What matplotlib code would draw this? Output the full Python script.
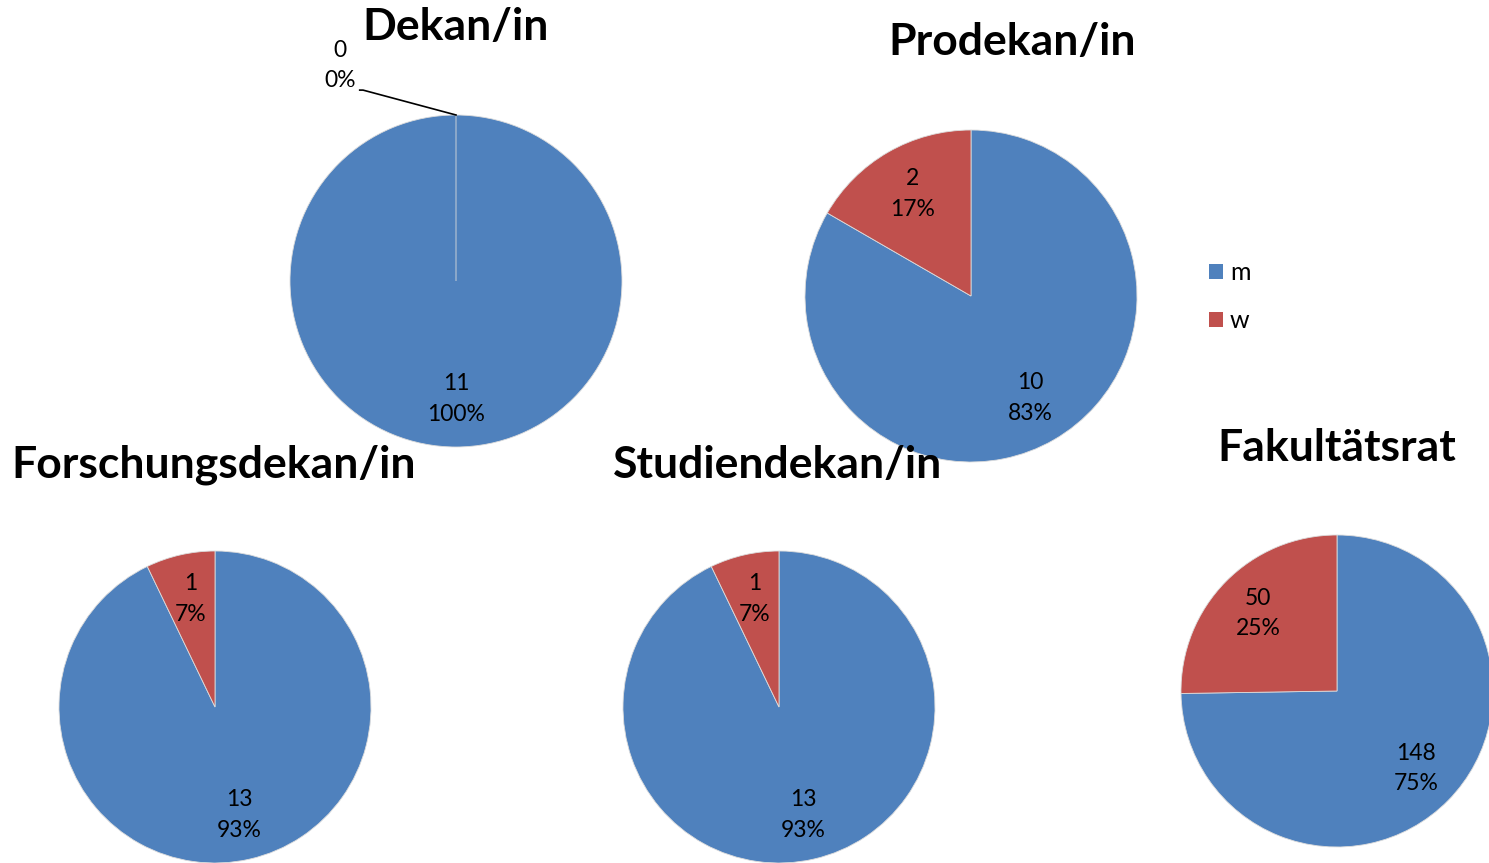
import matplotlib
matplotlib.use("Agg")
import matplotlib.pyplot as plt
from matplotlib.patches import Patch

W, H = 1489, 863
categories = ["m", "w"]
titles = ["Dekan/in", "Prodekan/in", "Forschungsdekan/in", "Studiendekan/in", "Fakultätsrat"]
dekan = [11, 0]
prodekan = [10, 2]
forschungsdekan = [13, 1]
studiendekan = [13, 1]
fakultaetsrat = [148, 50]
series = [dekan, prodekan, forschungsdekan, studiendekan, fakultaetsrat]
colors = ["#4F81BD", "#C0504D"]

# layout (pixels): center x, center y, radius, title x, title y
layout = [
    (456, 281, 166, 456, 27),
    (971, 296, 166, 1012, 42),
    (215, 707, 156, 214, 465),
    (779, 707, 156, 778, 465),
    (1337, 691, 156, 1337, 448),
]

plt.rcParams['font.family'] = ['Lato', 'DejaVu Sans']
fig = plt.figure(figsize=(W / 100, H / 100), dpi=100)

for vals, title, (cx, cy, r, tx, ty) in zip(series, titles, layout):
    ax = fig.add_axes([(cx - r) / W, (H - (cy + r)) / H, 2 * r / W, 2 * r / H])
    total = sum(vals)
    it = iter(vals)

    def fmt(pct, it=it, total=total):
        v = next(it)
        return f"{v}\n{round(100 * v / total)}%"

    wedges, texts, autotexts = ax.pie(
        vals, colors=colors, startangle=90, counterclock=False,
        autopct=fmt, pctdistance=0.71,
        wedgeprops=dict(edgecolor="#dcdcdc", linewidth=0.6),
        textprops=dict(fontsize=16.5, color="black", linespacing=1.55),
    )
    ax.set_xlim(-1, 1)
    ax.set_ylim(-1, 1)
    ax.set_aspect("equal")
    ax.axis("off")
    for v, t in zip(vals, autotexts):
        if v == 0:
            # outside label with leader line
            t.set_position((-0.70, 1.30))
            t.set_clip_on(False)
            ax.plot([-0.58, -0.56, 0.0], [1.15, 1.15, 1.0], color="black",
                    lw=1.2, clip_on=False)
    fig.text(tx / W, 1 - ty / H, title, ha="center", va="center",
             fontsize=32, fontweight="bold")

handles = [Patch(facecolor=c, edgecolor="none") for c in colors]
fig.legend(handles, categories, loc="upper left",
           bbox_to_anchor=(1186 / W, 1 - 239 / H), frameon=False,
           handlelength=0.56, handleheight=0.56, handletextpad=0.3,
           labelspacing=1.0, fontsize=18)

fig.savefig("out.png", dpi=100)
